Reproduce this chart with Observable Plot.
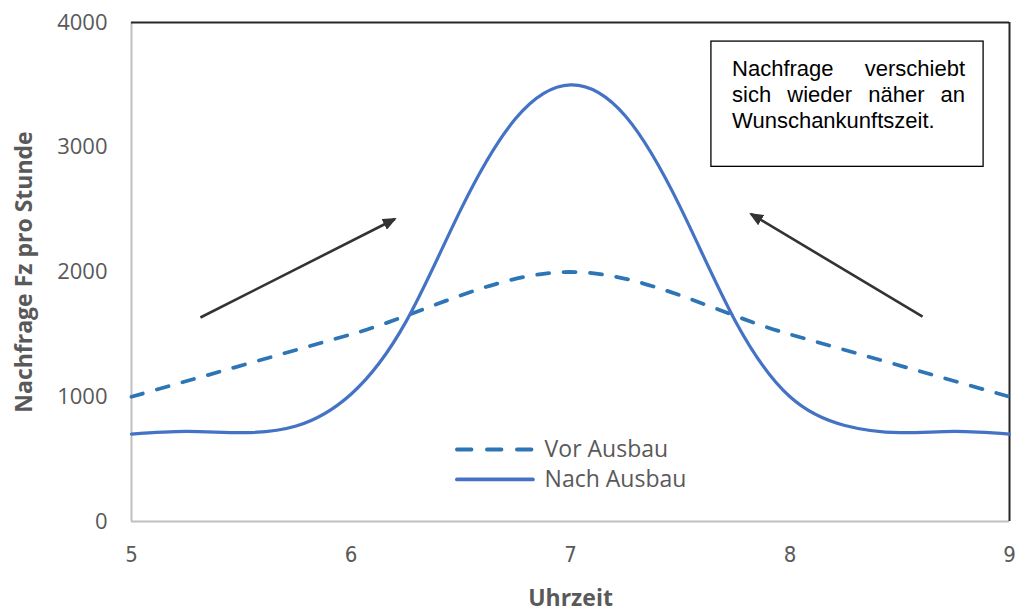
<!DOCTYPE html>
<html>
<head>
<meta charset="utf-8">
<script src="https://cdn.jsdelivr.net/npm/d3@7"></script>
<script src="https://cdn.jsdelivr.net/npm/@observablehq/plot@0.6"></script>
<style>
  body { margin: 0; background: #fff; }
  #chart svg { display: block; }
</style>
</head>
<body>
<div id="chart"></div>
<script>
// Tick values
const xTicks = [5, 6, 7, 8, 9];
const yTicks = [0, 1000, 2000, 3000, 4000];

// Demand before the extension (vehicles per hour)
const vorHours = [5, 6, 7, 8, 9];
const vorAusbau = [1000, 1500, 2000, 1500, 1000];

// Demand after the extension (vehicles per hour)
const nachHours = [5, 5.25, 5.5, 5.75, 6, 6.25, 6.5, 6.75, 7, 7.25, 7.5, 7.75, 8, 8.25, 8.5, 8.75, 9];
const nachAusbau = [700, 722, 712, 765, 1020, 1600, 2500, 3230, 3500, 3250, 2520, 1610, 1000, 770, 712, 722, 700];

const seriesNames = ["Vor Ausbau", "Nach Ausbau"];
const seriesColors = ["#2E75B6", "#4472C4"];

// Annotation: text box and the two arrows pointing towards the peak
const noteLines = ["Nachfrage verschiebt", "sich wieder näher an", "Wunschankunftszeit."];
const noteBox = [{x1: 7.642, x2: 8.882, y1: 2843, y2: 3847}];
const noteAnchor = [{x: 7.736, y: 3725}];
const arrows = [
  {x1: 5.314, y1: 1635, x2: 6.200, y2: 2425},
  {x1: 8.604, y1: 1643, x2: 7.822, y2: 2465}
];
// Legend anchors (in data units)
const legendKeys = [
  {x1: 6.485, x2: 6.831, tx: 6.882, y: 577, label: seriesNames[0]},
  {x1: 6.485, x2: 6.831, tx: 6.882, y: 337, label: seriesNames[1]}
];

const vorData = vorHours.map((h, i) => ({h, v: vorAusbau[i]}));
const nachData = nachHours.map((h, i) => ({h, v: nachAusbau[i]}));

const sans = "'Open Sans', 'Segoe UI', sans-serif";
const arial = "'Liberation Sans', Arial, sans-serif";
const grey = "#595959";
const plain = (d) => String(d);

const chart = Plot.plot({
  width: 1027,
  height: 611,
  marginLeft: 131,
  marginRight: 18,
  marginTop: 22,
  marginBottom: 90,
  style: {fontFamily: sans, background: "#fff"},
  x: {domain: [5, 9]},
  y: {domain: [0, 4000]},
  marks: [
    // plot area border
    Plot.ruleY([0], {stroke: "#BFBFBF", strokeWidth: 2}),
    Plot.ruleX([5], {stroke: "#BFBFBF", strokeWidth: 2}),
    Plot.ruleY([4000], {stroke: "#262626", strokeWidth: 2}),
    Plot.ruleX([9], {stroke: "#262626", strokeWidth: 2}),

    // axes
    Plot.axisY(yTicks, {tickSize: 0, tickPadding: 24, tickFormat: plain, label: null,
      fontSize: 22, fontFamily: sans, color: grey}),
    Plot.axisX(xTicks, {tickSize: 0, tickPadding: 25, tickFormat: plain, label: null,
      fontSize: 22, fontFamily: "'DejaVu Sans Condensed', 'DejaVu Sans', sans-serif", color: grey}),
    Plot.axisY({ticks: [], tickSize: 0, label: "Nachfrage Fz pro Stunde", labelAnchor: "center", labelArrow: "none",
      labelOffset: 116, fontSize: 23, fontWeight: "bold", fontFamily: sans, color: grey}),
    Plot.axisX({ticks: [], tickSize: 0, label: "Uhrzeit", labelAnchor: "center", labelArrow: "none",
      labelOffset: 84, fontSize: 23, fontWeight: "bold", fontFamily: sans, color: grey}),

    // series
    Plot.line(vorData, {x: "h", y: "v", curve: "cardinal", stroke: seriesColors[0], strokeWidth: 3.8,
      strokeDasharray: "12,14.5", strokeLinecap: "round"}),
    Plot.line(nachData, {x: "h", y: "v", curve: "natural", stroke: seriesColors[1], strokeWidth: 3.2}),

    // legend
    Plot.ruleY(legendKeys.slice(0, 1), {y: "y", x1: "x1", x2: "x2", stroke: seriesColors[0], strokeWidth: 3.8,
      strokeDasharray: "14.5,15.5", strokeLinecap: "round"}),
    Plot.ruleY(legendKeys.slice(1), {y: "y", x1: "x1", x2: "x2", stroke: seriesColors[1], strokeWidth: 3.8, strokeLinecap: "round"}),
    Plot.text(legendKeys, {x: "tx", y: "y", text: "label", textAnchor: "start", fontSize: 23, fontFamily: sans, fill: grey}),

    // annotation
    Plot.link(arrows, {x1: "x1", y1: "y1", x2: "x2", y2: "y2", stroke: "#333", strokeWidth: 2.6}),
    Plot.rect(noteBox, {x1: "x1", x2: "x2", y1: "y1", y2: "y2", fill: "#fff", stroke: "#000", strokeWidth: 1.3}),
    Plot.text(noteAnchor, {x: "x", y: "y", text: () => noteLines.join("\n"), textAnchor: "start", lineAnchor: "top",
      lineHeight: 1.2, fontSize: 22, fontFamily: arial, fill: "#000"})
  ]
});

document.getElementById("chart").appendChild(chart);

const svg = d3.select(chart);

// condensed hour labels
svg.selectAll('g[aria-label="x-axis tick label"] text').style("font-stretch", "condensed");

// filled arrow heads
svg.append("defs").append("marker")
  .attr("id", "arrow-head")
  .attr("viewBox", "0 0 14 12")
  .attr("refX", 12)
  .attr("refY", 6)
  .attr("markerUnits", "userSpaceOnUse")
  .attr("markerWidth", 14)
  .attr("markerHeight", 12)
  .attr("orient", "auto")
  .append("path")
  .attr("d", "M0,0L14,6L0,12Z")
  .attr("fill", "#333");
svg.selectAll('g[aria-label="link"] path').attr("marker-end", "url(#arrow-head)");

// justify the first two lines of the note
const justifiedWidth = 233;
svg.selectAll("tspan").each(function () {
  const t = this.textContent;
  if (t === noteLines[0] || t === noteLines[1]) {
    const gaps = t.split(" ").length - 1;
    const w = this.getComputedTextLength();
    if (gaps > 0 && w < justifiedWidth) d3.select(this).attr("word-spacing", (justifiedWidth - w) / gaps);
  }
});
</script>
</body>
</html>
